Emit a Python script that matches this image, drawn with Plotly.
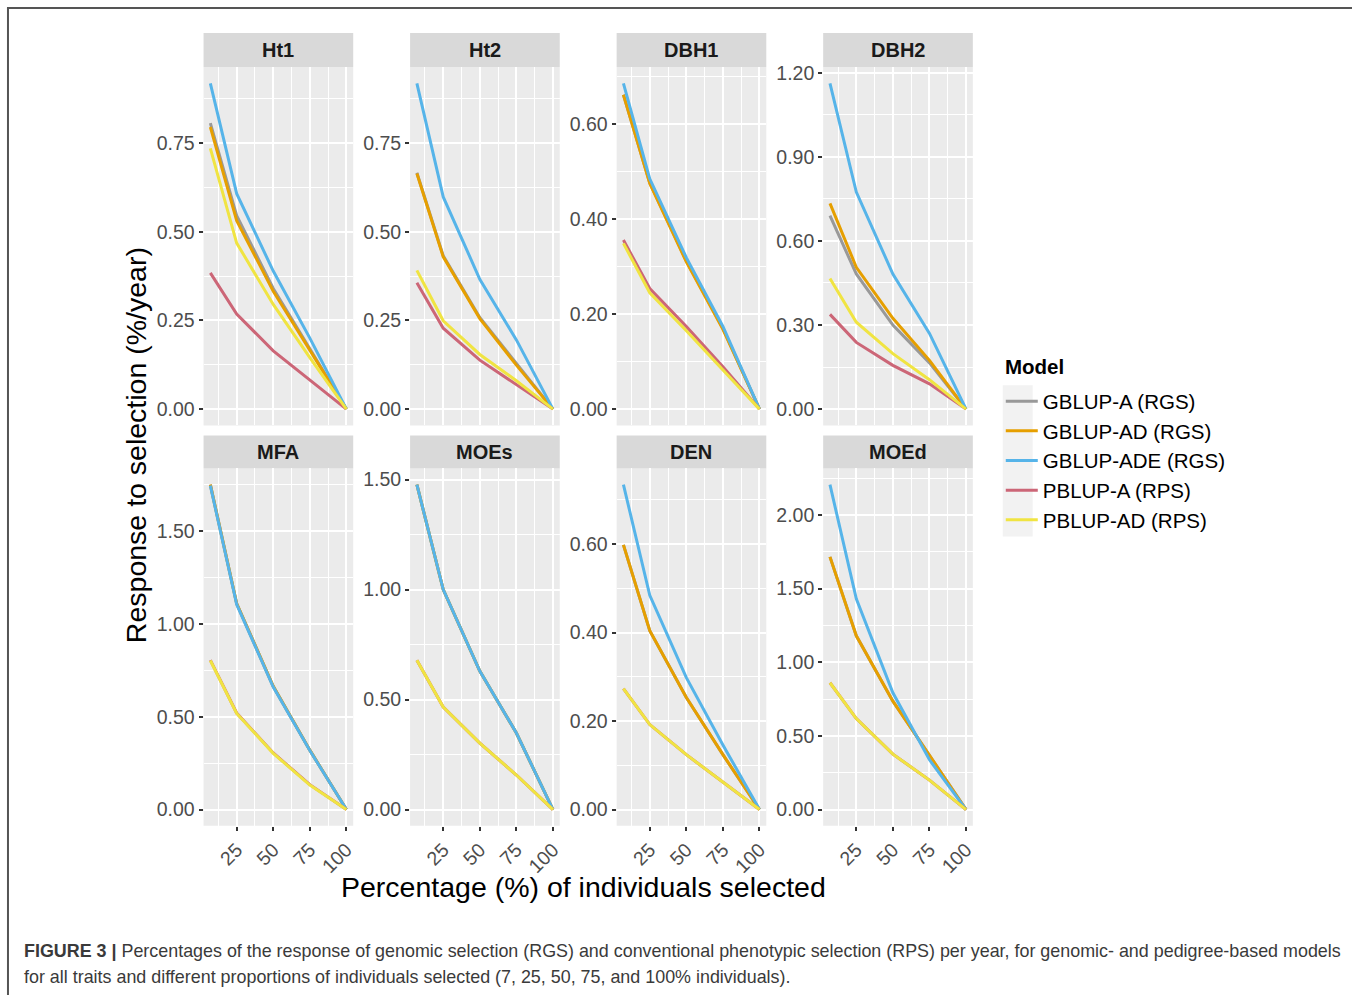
import plotly.graph_objects as go

# ---------------- data ----------------
pct_selected = [7, 25, 50, 75, 100]
traits = ["Ht1", "Ht2", "DBH1", "DBH2", "MFA", "MOEs", "DEN", "MOEd"]
models = ["GBLUP-A (RGS)", "GBLUP-AD (RGS)", "GBLUP-ADE (RGS)", "PBLUP-A (RPS)", "PBLUP-AD (RPS)"]
model_colors = ["#999999", "#E69F00", "#56B4E9", "#CC6677", "#F0E442"]

ht1_gblup_a   = [0.806, 0.545, 0.340, 0.170, 0.0]
ht1_gblup_ad  = [0.795, 0.531, 0.332, 0.165, 0.0]
ht1_gblup_ade = [0.918, 0.607, 0.389, 0.200, 0.0]
ht1_pblup_a   = [0.384, 0.268, 0.164, 0.081, 0.0]
ht1_pblup_ad  = [0.735, 0.468, 0.295, 0.145, 0.0]

ht2_gblup_a   = [0.666, 0.432, 0.258, 0.128, 0.0]
ht2_gblup_ad  = [0.664, 0.429, 0.255, 0.124, 0.0]
ht2_gblup_ade = [0.918, 0.598, 0.366, 0.195, 0.0]
ht2_pblup_a   = [0.356, 0.228, 0.138, 0.070, 0.0]
ht2_pblup_ad  = [0.391, 0.249, 0.154, 0.080, 0.0]

dbh1_gblup_a   = [0.662, 0.476, 0.312, 0.170, 0.0]
dbh1_gblup_ad  = [0.662, 0.475, 0.310, 0.168, 0.0]
dbh1_gblup_ade = [0.686, 0.485, 0.319, 0.174, 0.0]
dbh1_pblup_a   = [0.356, 0.254, 0.174, 0.089, 0.0]
dbh1_pblup_ad  = [0.349, 0.245, 0.165, 0.082, 0.0]

dbh2_gblup_a   = [0.690, 0.482, 0.300, 0.165, 0.0]
dbh2_gblup_ad  = [0.734, 0.506, 0.324, 0.174, 0.0]
dbh2_gblup_ade = [1.162, 0.774, 0.482, 0.270, 0.0]
dbh2_pblup_a   = [0.338, 0.238, 0.156, 0.090, 0.0]
dbh2_pblup_ad  = [0.466, 0.310, 0.198, 0.105, 0.0]

mfa_gblup_a   = [1.750, 1.110, 0.664, 0.320, 0.0]
mfa_gblup_ad  = [1.750, 1.110, 0.664, 0.320, 0.0]
mfa_gblup_ade = [1.745, 1.105, 0.660, 0.318, 0.0]
mfa_pblup_a   = [0.805, 0.520, 0.305, 0.134, 0.0]
mfa_pblup_ad  = [0.803, 0.518, 0.303, 0.132, 0.0]

moes_gblup_a   = [1.477, 1.000, 0.630, 0.348, 0.0]
moes_gblup_ad  = [1.477, 1.000, 0.630, 0.348, 0.0]
moes_gblup_ade = [1.477, 1.000, 0.630, 0.348, 0.0]
moes_pblup_a   = [0.679, 0.466, 0.302, 0.157, 0.0]
moes_pblup_ad  = [0.679, 0.466, 0.302, 0.157, 0.0]

den_gblup_a   = [0.598, 0.404, 0.253, 0.124, 0.0]
den_gblup_ad  = [0.598, 0.404, 0.253, 0.124, 0.0]
den_gblup_ade = [0.734, 0.484, 0.298, 0.146, 0.0]
den_pblup_a   = [0.273, 0.192, 0.124, 0.063, 0.0]
den_pblup_ad  = [0.273, 0.192, 0.124, 0.063, 0.0]

moed_gblup_a   = [1.716, 1.180, 0.736, 0.372, 0.0]
moed_gblup_ad  = [1.716, 1.180, 0.736, 0.372, 0.0]
moed_gblup_ade = [2.206, 1.431, 0.793, 0.338, 0.0]
moed_pblup_a   = [0.861, 0.618, 0.376, 0.200, 0.0]
moed_pblup_ad  = [0.861, 0.618, 0.376, 0.200, 0.0]

series = {
    "Ht1": [ht1_gblup_a, ht1_gblup_ad, ht1_gblup_ade, ht1_pblup_a, ht1_pblup_ad],
    "Ht2": [ht2_gblup_a, ht2_gblup_ad, ht2_gblup_ade, ht2_pblup_a, ht2_pblup_ad],
    "DBH1": [dbh1_gblup_a, dbh1_gblup_ad, dbh1_gblup_ade, dbh1_pblup_a, dbh1_pblup_ad],
    "DBH2": [dbh2_gblup_a, dbh2_gblup_ad, dbh2_gblup_ade, dbh2_pblup_a, dbh2_pblup_ad],
    "MFA": [mfa_gblup_a, mfa_gblup_ad, mfa_gblup_ade, mfa_pblup_a, mfa_pblup_ad],
    "MOEs": [moes_gblup_a, moes_gblup_ad, moes_gblup_ade, moes_pblup_a, moes_pblup_ad],
    "DEN": [den_gblup_a, den_gblup_ad, den_gblup_ade, den_pblup_a, den_pblup_ad],
    "MOEd": [moed_gblup_a, moed_gblup_ad, moed_gblup_ade, moed_pblup_a, moed_pblup_ad],
}

x_ticks = [25, 50, 75, 100]
y_ticks = {
    "Ht1": [0.0, 0.25, 0.50, 0.75],
    "Ht2": [0.0, 0.25, 0.50, 0.75],
    "DBH1": [0.0, 0.20, 0.40, 0.60],
    "DBH2": [0.0, 0.30, 0.60, 0.90, 1.20],
    "MFA": [0.0, 0.50, 1.00, 1.50],
    "MOEs": [0.0, 0.50, 1.00, 1.50],
    "DEN": [0.0, 0.20, 0.40, 0.60],
    "MOEd": [0.0, 0.50, 1.00, 1.50, 2.00],
}

x_title = "Percentage (%) of individuals selected"
y_title = "Response to selection (%/year)"
legend_title = "Model"
caption_bold = "FIGURE 3 |"
caption_line1 = ("Percentages of the response of genomic selection (RGS) and conventional phenotypic "
                 "selection (RPS) per year, for genomic- and pedigree-based models")
caption_line2 = "for all traits and different proportions of individuals selected (7, 25, 50, 75, and 100% individuals)."

# ---------------- layout geometry (pixels) ----------------
W, H = 1355, 995
col_px = [(204, 354), (411, 561), (618, 768), (825, 975)]
row_px = [(67, 425), (468, 825)]
strip_px = [(33, 67), (435, 468)]

FONT = "Liberation Sans, Arial, sans-serif"

def fx(px):
    return px / W

def fy(px):
    # small vertical calibration observed in rendering
    p = (px - 6.0) / 0.993
    return 1 - p / H

def expand(lo, hi, mult=0.05):
    span = hi - lo
    return [lo - mult * span, hi + mult * span]

def minor_of(ticks, rng):
    step = ticks[1] - ticks[0]
    cands = [ticks[0] - step / 2] + [t + step / 2 for t in ticks]
    return [c for c in cands if rng[0] <= c <= rng[1]]

fig = go.Figure()
layout = dict()
shapes = []
annotations = []

xrng = expand(min(pct_selected), max(pct_selected))

for k, trait in enumerate(traits):
    r, c = divmod(k, 4)
    idx = k + 1
    xa = "x" if idx == 1 else f"x{idx}"
    ya = "y" if idx == 1 else f"y{idx}"
    vals = series[trait]
    allv = [v for s in vals for v in s]
    yrng = expand(min(allv), max(allv))

    for m, (name, col, yv) in enumerate(zip(models, model_colors, vals)):
        fig.add_trace(go.Scatter(
            x=pct_selected, y=yv, mode="lines", name=name,
            line=dict(color=col, width=3),
            xaxis=xa, yaxis=ya, showlegend=(k == 0), legendgroup=name,
            hoverinfo="skip",
        ))

    x0, x1 = col_px[c]
    y0, y1 = row_px[r]
    xkey = "xaxis" if idx == 1 else f"xaxis{idx}"
    ykey = "yaxis" if idx == 1 else f"yaxis{idx}"
    layout[xkey] = dict(
        domain=[fx(x0), fx(x1)], anchor=ya, range=xrng,
        tickvals=x_ticks, ticktext=[str(t) for t in x_ticks],
        showticklabels=(r == 1), ticks="outside" if r == 1 else "",
        ticklen=4, tickwidth=1.5, tickcolor="#333333",
        tickangle=-45, tickfont=dict(family=FONT, size=19.5, color="#4D4D4D"),
        showgrid=True, gridcolor="white", gridwidth=2,
        minor=dict(tickvals=minor_of(x_ticks, xrng), showgrid=True, gridcolor="white", gridwidth=1, ticks=""),
        zeroline=False, showline=False, fixedrange=True,
    )
    yt = y_ticks[trait]
    layout[ykey] = dict(
        domain=[fy(y1), fy(y0)], anchor=xa, range=yrng,
        tickvals=yt, ticktext=[f"{t:.2f}" for t in yt],
        ticks="outside", ticklen=4, tickwidth=1.5, tickcolor="#333333",
        tickfont=dict(family=FONT, size=19.5, color="#4D4D4D"),
        showgrid=True, gridcolor="white", gridwidth=2,
        minor=dict(tickvals=minor_of(yt, yrng), showgrid=True, gridcolor="white", gridwidth=1, ticks=""),
        zeroline=False, showline=False, fixedrange=True,
    )
    # panel background
    shapes.append(dict(type="rect", xref="paper", yref="paper", layer="below",
                       x0=fx(x0), x1=fx(x1), y0=fy(y1), y1=fy(y0),
                       fillcolor="#EBEBEB", line=dict(width=0)))
    # strip
    s0, s1 = strip_px[r]
    shapes.append(dict(type="rect", xref="paper", yref="paper", layer="below",
                       x0=fx(x0), x1=fx(x1), y0=fy(s1), y1=fy(s0),
                       fillcolor="#D9D9D9", line=dict(width=0)))
    annotations.append(dict(text=f"<b>{trait}</b>", xref="paper", yref="paper",
                            x=fx((x0 + x1) / 2), y=fy((s0 + s1) / 2), showarrow=False,
                            xanchor="center", yanchor="middle",
                            font=dict(family=FONT, size=20, color="#1A1A1A")))

# axis titles
annotations.append(dict(text=x_title, xref="paper", yref="paper", x=fx(585), y=fy(886),
                        showarrow=False, xanchor="center", yanchor="middle",
                        font=dict(family=FONT, size=28.5, color="black")))
annotations.append(dict(text=y_title, xref="paper", yref="paper", x=fx(137), y=fy(445),
                        showarrow=False, xanchor="center", yanchor="middle", textangle=-90,
                        font=dict(family=FONT, size=28.5, color="black")))

# legend title
annotations.append(dict(text=f"<b>{legend_title}</b>", xref="paper", yref="paper", x=fx(1005), y=fy(366),
                        showarrow=False, xanchor="left", yanchor="middle",
                        font=dict(family=FONT, size=20.5, color="black")))

# caption
CAP_FONT = "Liberation Sans, Arial, sans-serif"
annotations.append(dict(text=f"<b>{caption_bold}</b> {caption_line1}", xref="paper", yref="paper",
                        x=fx(22), y=fy(950), showarrow=False, xanchor="left", yanchor="middle",
                        font=dict(family=CAP_FONT, size=17.9, color="#3A3A3A")))
annotations.append(dict(text=caption_line2, xref="paper", yref="paper",
                        x=fx(22), y=fy(976), showarrow=False, xanchor="left", yanchor="middle",
                        font=dict(family=CAP_FONT, size=17.9, color="#3A3A3A")))

# legend key background
shapes.append(dict(type="rect", xref="paper", yref="paper", layer="below",
                   x0=fx(1005), x1=fx(1035), y0=fy(536), y1=fy(385),
                   fillcolor="#F2F2F2", line=dict(width=0)))

# figure border
shapes.append(dict(type="line", xref="paper", yref="paper", x0=fx(7), x1=fx(1355), y0=fy(8), y1=fy(8),
                   line=dict(color="#555555", width=2)))
shapes.append(dict(type="line", xref="paper", yref="paper", x0=fx(8), x1=fx(8), y0=fy(8), y1=fy(995),
                   line=dict(color="#555555", width=2)))

fig.update_layout(
    width=W, height=H, margin=dict(l=0, r=0, t=0, b=0),
    paper_bgcolor="white", plot_bgcolor="rgba(0,0,0,0)",
    shapes=shapes, annotations=annotations,
    showlegend=True,
    legend=dict(
        font=dict(family=FONT, size=20.5, color="black"),
        x=fx(1003), y=fy(381), xanchor="left", yanchor="top",
        bgcolor="rgba(0,0,0,0)", borderwidth=0, tracegroupgap=4.5,
        traceorder="normal", itemwidth=32,
    ),
    **layout,
)

post = ("document.body.style.margin='0px';document.body.style.padding='0px';"
        "var gd=document.getElementsByClassName('plotly-graph-div')[0];"
        "gd.style.position='absolute';gd.style.top='0px';gd.style.left='0px';")
fig.write_html("out.html", config={"displayModeBar": False}, post_script=post)
